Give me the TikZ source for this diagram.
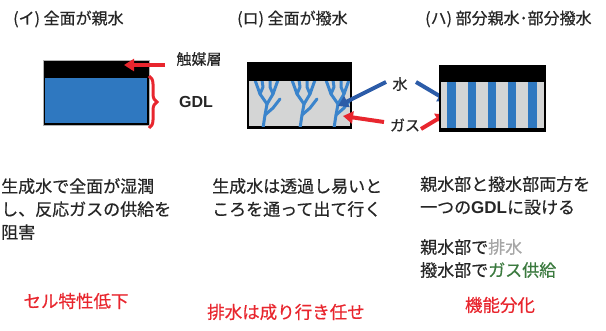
\documentclass[tikz,border=0pt]{standalone}
\usepackage{fontspec}
\setmainfont{Noto Sans CJK JP}[FakeBold=0.5]
\newfontfamily\gdlfont{Liberation Sans}
\usetikzlibrary{arrows.meta}
\usetikzlibrary{decorations.pathreplacing}

\definecolor{gdlblue}{HTML}{2F78C0}
\definecolor{chanblue}{HTML}{3A84CC}
\definecolor{arrowblue}{HTML}{2C5CA8}
\definecolor{fcred}{HTML}{E8262E}
\definecolor{gdlgray}{HTML}{D4D5D5}
\definecolor{txtgray}{HTML}{262626}
\definecolor{draingray}{HTML}{A6A6A6}
\definecolor{gasgreen}{HTML}{3B7A3F}

\tikzset{
    title/.style={anchor=west, inner sep=0, text=txtgray, font=\fontsize{16}{18}\selectfont},
    body/.style={anchor=north west, inner sep=0, align=left, text=txtgray, font=\fontsize{17}{23}\selectfont},
    result/.style={inner sep=0, text=fcred, font=\fontsize{17.5}{20}\selectfont},
    lbl/.style={inner sep=0, text=txtgray, font=\fontsize{15}{17}\selectfont},
    redarrow/.style={fcred, line width=4pt, -{Triangle[length=10pt,width=12pt]}},
    bluearrow/.style={arrowblue, line width=4pt, -{Triangle[length=10pt,width=12pt]}},
    channel/.style={chanblue, line width=3pt, line join=round, line cap=round}
}

\begin{document}
\begin{tikzpicture}[x=1pt, y=-1pt]
    \useasboundingbox (0,0) rectangle (606,330);

    % titles
    \node[title] (t1) at (13,19) {(イ) 全面が親水};
    \node[title] (t2) at (237,19) {(ロ) 全面が撥水};
    \node[title] (t3) at (425,19) {(ハ) 部分親水･部分撥水};

    % (i) hydrophilic GDL
    \fill[black] (43,60) rectangle (149,125);
    \fill[gdlblue] (45,78) rectangle (147,123);
    \draw[gray!60, line width=0.6pt] (43,60) rectangle (149,125);

    \node[lbl] (cat) at (199,59) {触媒層};
    \node[lbl, font=\gdlfont\bfseries\fontsize{16}{18}\selectfont] (gdl) at (196,102) {GDL};
    \coordinate (cat-tail) at (165,65);
    \coordinate (cat-head) at (124,65);
    \draw[redarrow] (cat-tail) -- (cat-head);
    \coordinate (br-top) at (149,76);
    \coordinate (br-bot) at (149,128);
    \draw[fcred, line width=3pt, decorate,
          decoration={brace, amplitude=8pt}] (br-top) -- (br-bot);

    % (ii) hydrophobic GDL with branching water paths
    \fill[black] (247,62) rectangle (352,129);
    \fill[gdlgray] (249,81) rectangle (350,126);
    \begin{scope}
        \clip (249,81) rectangle (350,126);
        \foreach \t in {263,300,334} {
            \begin{scope}[shift={(\t,0)}]
                \draw[channel] (0,128) -- (2,115) -- (4,104);
                \draw[channel] (4,104) -- (-3,94) -- (-8,80);
                \draw[channel] (-3,94) -- (0,87) -- (-1,80);
                \draw[channel] (4,104) -- (10,94) -- (15,80);
                \draw[channel] (10,94) -- (7,87) -- (7,80);
                \draw[channel] (2,115) -- (10,108) -- (17,99);
            \end{scope}
        }
    \end{scope}

    % water / gas labels shared by (ii) and (iii)
    \node[lbl] (water) at (400,84) {水};
    \node[lbl] (gas) at (405,125) {ガス};
    \coordinate (w-l-tail) at (386,82);
    \coordinate (w-l-head) at (338,106);
    \coordinate (w-r-tail) at (416,82);
    \coordinate (w-r-head) at (448,101);
    \coordinate (g-l-tail) at (384,122);
    \coordinate (g-l-head) at (343,116);
    \coordinate (g-r-tail) at (421,129);
    \coordinate (g-r-head) at (446,114);
    \draw[bluearrow] (w-l-tail) -- (w-l-head);
    \draw[bluearrow] (w-r-tail) -- (w-r-head);
    \draw[redarrow] (g-l-tail) -- (g-l-head);
    \draw[redarrow] (g-r-tail) -- (g-r-head);

    % (iii) striped GDL
    \fill[black] (439,65) rectangle (546,132);
    \fill[gdlgray] (441,82) rectangle (544,128);
    \foreach \x in {447,467.5,487.5,507.5,528} {
        \fill[gdlblue] (\x,82) rectangle (\x+8.5,128);
    }

    % explanations
    \node[body] (d1) at (1,178) {生成水で全面が湿潤\\し、反応ガスの供給を\\阻害};
    \node[body] (d2) at (212,178) {生成水は透過し易いと\\ころを通って出て行く};
    \node[body] (d3) at (420,176) {親水部と撥水部両方を\\一つの{\gdlfont\bfseries GDL}に設ける};
    \node[body] (d4) at (420,239) {親水部で\textcolor{draingray}{排水}\\撥水部で\textcolor{gasgreen}{ガス供給}};

    % outcomes
    \node[result] (r1) at (76,301) {セル特性低下};
    \node[result] (r2) at (286,312) {排水は成り行き任せ};
    \node[result] (r3) at (500,305) {機能分化};
\end{tikzpicture}
\end{document}
